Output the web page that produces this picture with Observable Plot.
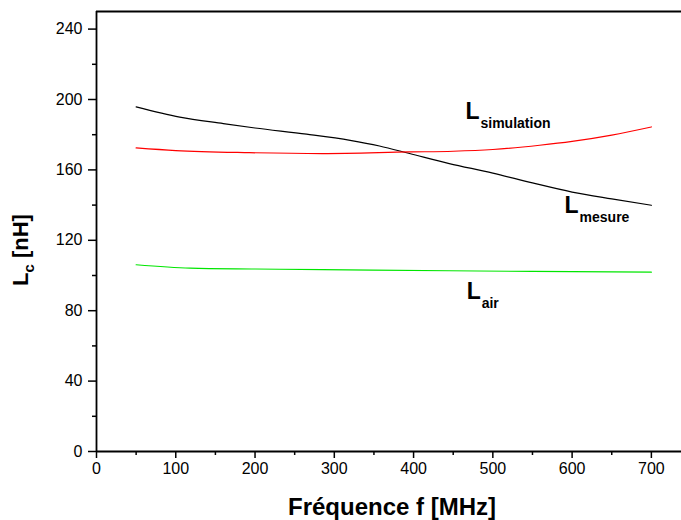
<!DOCTYPE html>
<html>
<head>
<meta charset="utf-8">
<script src="https://cdn.jsdelivr.net/npm/d3@7"></script>
<script src="https://cdn.jsdelivr.net/npm/@observablehq/plot@0.6"></script>
<style>
  html, body { margin: 0; padding: 0; background: #fff; }
  svg { display: block; }
</style>
</head>
<body>
<div id="chart"></div>
<script>
// Frequency (MHz) and inductance (nH) readings
const mesureF = [50, 105, 160, 200, 265, 320, 357, 395, 445, 500, 550, 600, 650, 700];
const mesureL = [195.8, 190.0, 186.3, 183.8, 180.3, 176.8, 173.6, 169.3, 163.6, 158.2, 152.6, 147.4, 143.5, 139.9];

const simF = [50, 100, 193, 285, 395, 450, 500, 559, 600, 650, 700];
const simL = [172.5, 171.0, 169.8, 169.3, 170.2, 170.6, 171.6, 174.0, 176.2, 179.8, 184.4];

const airF = [50, 118, 200, 285, 445, 550, 700];
const airL = [106.1, 104.2, 103.7, 103.3, 102.7, 102.3, 101.9];

// Axis ticks
const xTicks = [0, 100, 200, 300, 400, 500, 600, 700];
const xMinor = [50, 150, 250, 350, 450, 550, 650];
const yTicks = [0, 40, 80, 120, 160, 200, 240];
const yMinor = [20, 60, 100, 140, 180, 220];
const xMax = 738;
const yMax = 250;

// Curve labels (main letter + subscript), positioned in data units
const labelMain = ["L", "L", "L"];
const labelSub = ["simulation", "mesure", "air"];
const labelX = [465.5, 590.5, 467];
const labelY = [188.8, 135.3, 86.9];

const font = "'Liberation Sans', Arial, Helvetica, sans-serif";

const series = (f, l, name) => f.map((x, i) => ({f: x, L: l[i], s: name}));
const lines = [
  ...series(mesureF, mesureL, "mesure"),
  ...series(simF, simL, "simulation"),
  ...series(airF, airL, "air")
];
const labels = labelMain.map((m, i) => ({m, sub: labelSub[i], x: labelX[i], y: labelY[i]}));

const plot = Plot.plot({
  width: 681,
  height: 520,
  marginLeft: 96,
  marginRight: 0,
  marginTop: 11,
  marginBottom: 69,
  style: {fontFamily: font, background: "#fff", color: "#000"},
  x: {domain: [0, xMax], axis: null},
  y: {domain: [0, yMax], axis: null},
  color: {domain: ["mesure", "simulation", "air"], range: ["#000000", "#ff0000", "#00e600"]},
  marks: [
    Plot.axisX(xTicks, {tickSize: 7, tickPadding: 4, fontSize: 16, strokeWidth: 1.5, label: null}),
    Plot.axisX(xMinor, {tickSize: 4, tickFormat: () => "", strokeWidth: 1.5, label: null}),
    Plot.axisY(yTicks, {tickSize: 8, tickPadding: 6, fontSize: 16, strokeWidth: 1.5, label: null}),
    Plot.axisY(yMinor, {tickSize: 4, tickFormat: () => "", strokeWidth: 1.5, label: null}),
    Plot.ruleX([0], {strokeWidth: 1.8}),
    Plot.ruleY([0], {strokeWidth: 1.8}),
    Plot.ruleY([yMax], {strokeWidth: 1.8}),
    Plot.line(lines, {x: "f", y: "L", z: "s", stroke: "s", strokeWidth: 1.2, curve: "monotone-x"}),
    Plot.text(labels, {x: "x", y: "y", text: "m", textAnchor: "start", lineAnchor: "bottom", fontSize: 23, fontWeight: "bold", fill: "#000"}),
    Plot.text(labels, {x: "x", y: "y", text: "sub", textAnchor: "start", lineAnchor: "bottom", dx: 15, dy: 9, fontSize: 14, fontWeight: "bold", fill: "#000"})
  ]
});

const svg = d3.select(plot);
svg.append("text")
  .attr("x", 392)
  .attr("y", 515)
  .attr("text-anchor", "middle")
  .attr("font-family", font)
  .attr("font-size", 24)
  .attr("font-weight", "bold")
  .attr("fill", "#000")
  .text("Fréquence f [MHz]");

const yt = svg.append("text")
  .attr("transform", "translate(28,250) rotate(-90)")
  .attr("text-anchor", "middle")
  .attr("font-family", font)
  .attr("font-size", 22)
  .attr("font-weight", "bold")
  .attr("fill", "#000");
yt.append("tspan").text("L");
yt.append("tspan").attr("font-size", 15).attr("dy", 6).text("c");
yt.append("tspan").attr("dy", -6).text(" [nH]");

document.getElementById("chart").appendChild(plot);
</script>
</body>
</html>
